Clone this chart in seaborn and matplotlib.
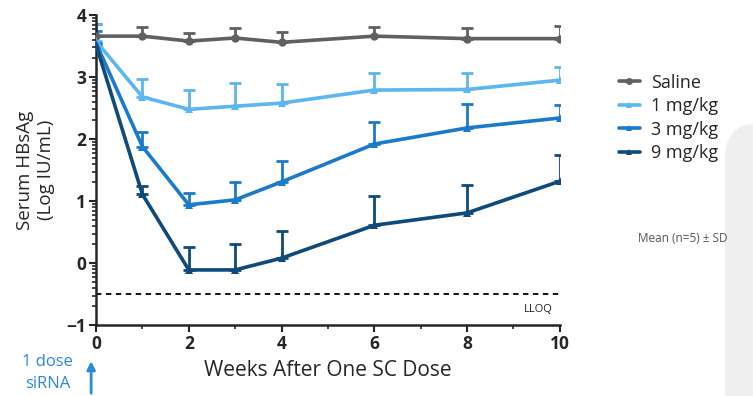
import numpy as np
import pandas as pd
import matplotlib
matplotlib.use("Agg")
import matplotlib.pyplot as plt
import matplotlib.patches as mpatches
import matplotlib.transforms as mtransforms
import seaborn as sns

sns.set_style("ticks")
plt.rcParams["font.family"] = ["Open Sans", "DejaVu Sans"]

# data (Mean, n=5, upper SD bar)
weeks = [0, 1, 2, 3, 4, 6, 8, 10]
groups = ["Saline", "1 mg/kg", "3 mg/kg", "9 mg/kg"]
saline = [3.66, 3.66, 3.58, 3.63, 3.56, 3.66, 3.62, 3.62]
saline_sd = [0.20, 0.14, 0.13, 0.16, 0.17, 0.14, 0.17, 0.20]
mg1 = [3.58, 2.68, 2.48, 2.53, 2.58, 2.79, 2.80, 2.95]
mg1_sd = [0.28, 0.29, 0.31, 0.37, 0.31, 0.27, 0.26, 0.21]
mg3 = [3.55, 1.88, 0.94, 1.02, 1.31, 1.92, 2.18, 2.34]
mg3_sd = [0.20, 0.24, 0.19, 0.29, 0.34, 0.35, 0.38, 0.21]
mg9 = [3.52, 1.11, -0.11, -0.11, 0.08, 0.61, 0.81, 1.32]
mg9_sd = [0.15, 0.13, 0.37, 0.42, 0.44, 0.47, 0.45, 0.42]
lloq = -0.5

means = [saline, mg1, mg3, mg9]
sds = [saline_sd, mg1_sd, mg3_sd, mg9_sd]
colors = ["#606060", "#5cb6f2", "#1a7acc", "#0e4a7c"]
markers = ["o", "^", "^", "^"]

df = pd.concat([
    pd.DataFrame({"week": weeks, "value": m, "sd": s, "group": g})
    for g, m, s in zip(groups, means, sds)
])

fig = plt.figure(figsize=(7.53, 3.96), dpi=100)
# grey rounded background shape at right edge (pixel coords)
fig.patches.append(mpatches.FancyBboxPatch((725, -60), 120, 396 - 123 + 60,
                                           boxstyle="round,pad=0,rounding_size=35",
                                           transform=mtransforms.IdentityTransform(),
                                           facecolor="#efefef", edgecolor="none", zorder=0))
ax = fig.add_axes([0.1275, 0.179, 0.616, 0.783])
ax.patch.set_alpha(0)

for g, c, mk in zip(groups, colors, markers):
    d = df[df["group"] == g]
    ax.errorbar(d["week"], d["value"], yerr=[np.zeros(len(d)), d["sd"]],
                fmt="none", ecolor=c, elinewidth=2, capsize=4, capthick=2, zorder=2)

sns.lineplot(data=df, x="week", y="value", hue="group", style="group",
             palette=colors, markers=markers, dashes=False, linewidth=2.6,
             markersize=6, markeredgewidth=0, ax=ax, zorder=3, legend=False)

ax.axhline(lloq, xmin=0, xmax=1, color="black", lw=1.3, ls=(0, (3, 2.5)), zorder=1)
ax.text(9.85, -0.75, "LLOQ", fontsize=8, ha="right", va="center", color="#222222")

ax.set_xlim(0, 10)
ax.set_ylim(-1, 4)
ax.set_xticks(range(0, 11, 2))
ax.set_xticks(range(1, 10, 2), minor=True)
ax.set_yticks(range(-1, 5))
minor_y = [n + np.log10(k) for n in range(-1, 4) for k in range(2, 10)]
ax.set_yticks(minor_y, minor=True)
ax.tick_params(axis="both", which="major", labelsize=12.5, width=1.5, length=5, pad=2)
ax.tick_params(axis="both", which="minor", width=1.2, length=3)
for lab in ax.get_xticklabels() + ax.get_yticklabels():
    lab.set_fontweight("bold")
for sp in ["left", "bottom"]:
    ax.spines[sp].set_linewidth(1.8)
sns.despine(ax=ax)

ax.set_xlabel("Weeks After One SC Dose", fontsize=15, labelpad=5)
ax.set_ylabel("Serum HBsAg\n(Log IU/mL)", fontsize=13.5, labelpad=8)

handles = [plt.Line2D([], [], color=c, marker=mk, lw=2.6, markersize=5, markeredgewidth=0)
           for c, mk in zip(colors, markers)]
fig.legend(handles, groups, loc="upper left", bbox_to_anchor=(0.8, 0.855), frameon=False,
           fontsize=13, handlelength=1.2, handletextpad=0.6, labelspacing=0.3)
fig.text(0.907, 0.398, "Mean (n=5) \u00b1 SD", fontsize=8.5, color="#555555", ha="center", va="center")

fig.text(0.063, 0.085, "1 dose", fontsize=12, color="#2a8ad8", ha="center", va="center")
fig.text(0.063, 0.03, "siRNA", fontsize=12, color="#2a8ad8", ha="center", va="center")
fig.patches.append(mpatches.FancyArrowPatch((0.121, 0.0), (0.121, 0.095), transform=fig.transFigure,
                                            arrowstyle="-|>", mutation_scale=12, lw=2,
                                            color="#2a8ad8"))

fig.savefig("out.png", dpi=100)
